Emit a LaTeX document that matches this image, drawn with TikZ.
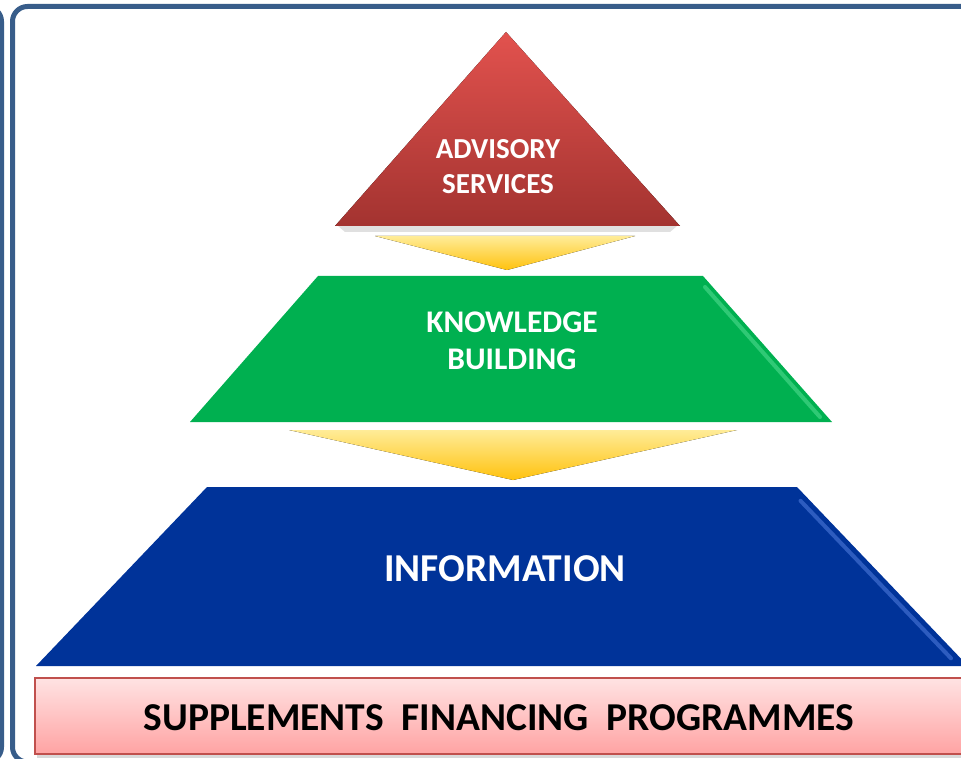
\documentclass[tikz,border=0pt]{standalone}
\usepackage{fontspec}
\setmainfont{Carlito}
\usetikzlibrary{positioning}
\definecolor{framecol}{HTML}{385D8A}
\definecolor{redtop}{HTML}{E2524E}
\definecolor{redbot}{HTML}{A33330}
\definecolor{greenfill}{HTML}{00B050}
\definecolor{greenlight}{HTML}{5EE39A}
\definecolor{bluefill}{HTML}{003399}
\definecolor{bluelight}{HTML}{5A86E6}
\definecolor{arrowtop}{HTML}{FFEC98}
\definecolor{arrowbot}{HTML}{FFC20E}
\definecolor{pinktop}{HTML}{FFE3E3}
\definecolor{pinkbot}{HTML}{FFA3A3}
\definecolor{pinkline}{HTML}{C0504D}

\begin{document}
\begin{tikzpicture}[x=1pt,y=-1pt,
  frame/.style={draw=framecol, line width=5pt, rounded corners=15pt},
  chevron/.style={top color=arrowtop, bottom color=arrowbot},
  bevel/.style={line width=4pt, line cap=round, opacity=.5},
  caption/.style args={#1/#2}{text=white, align=center, inner sep=0pt, font=\bfseries\fontsize{#1}{#2}\selectfont}
]
\useasboundingbox (0,0) rectangle (961,759);
\begin{scope}
  \clip (0,0) rectangle (961,759);
  \draw[frame] (-60,6.5) rectangle (1.5,762);
  \draw[frame] (12.5,6.5) rectangle (990,762);

  % top layer
  \fill[black, opacity=.12] (338,226) -- (677,226) -- (670,232) -- (345,232) -- cycle;
  \fill[top color=redtop, bottom color=redbot] (506,32) -- (680,226) -- (335,226) -- cycle;
  \fill[chevron] (375,236) -- (635,236) -- (507,270) -- cycle;

  % middle layer
  \fill[greenfill] (318,276) -- (703,276) -- (832,422) -- (190,422) -- cycle;
  \draw[bevel, greenlight] (705,287) -- (820,417);
  \fill[chevron] (289,430) -- (737,430) -- (513,480) -- cycle;

  % bottom layer
  \fill[bluefill] (207,487) -- (797,487) -- (968,666) -- (36,666) -- cycle;
  \draw[bevel, bluelight] (800.5,500.8) -- (951,658.3);

  % base box
  \fill[black, opacity=.15] (37,754) rectangle (975,758);
  \draw[draw=pinkline, line width=1.5pt, top color=pinktop, bottom color=pinkbot] (35,678) rectangle (975,754);
\end{scope}

\node[caption=29/34.4, anchor=north] (advisory) at (498,139.6) {ADVISORY\\SERVICES};
\node[caption=31.5/36.6, anchor=north] (knowledge) at (512,312) {KNOWLEDGE\\BUILDING};
\node[caption=39.5/45, anchor=base] (information) at (505,581.7) {INFORMATION};
\node[caption=39.5/45, text=black, anchor=base] (supplements) at (499,730)
  {SUPPLEMENTS\hspace{.45em}FINANCING\hspace{.45em}PROGRAMMES};
\end{tikzpicture}
\end{document}
